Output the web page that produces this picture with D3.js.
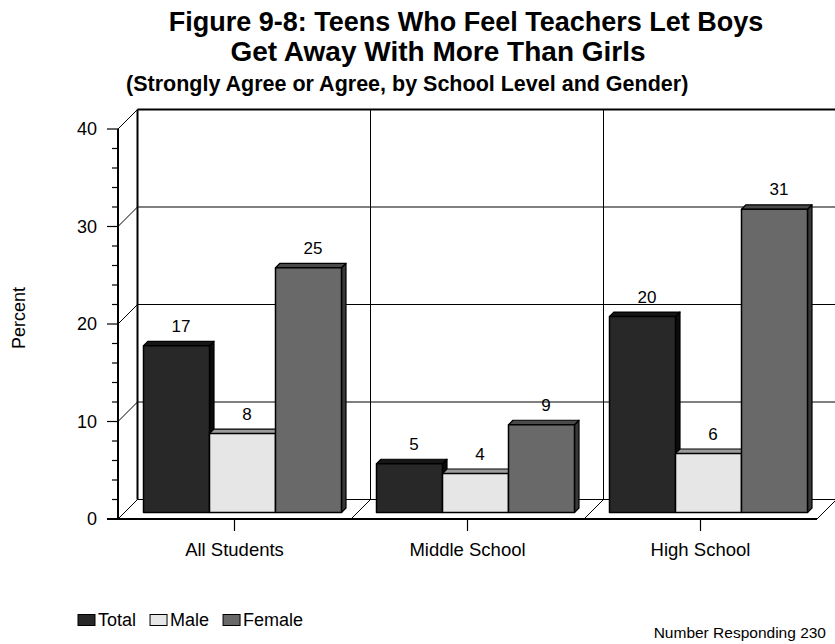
<!DOCTYPE html>
<html><head><meta charset="utf-8">
<script src="https://cdn.jsdelivr.net/npm/d3@7"></script>
<style>body{margin:0;background:#fff}svg{display:block;font-family:"Liberation Sans",Arial,sans-serif}</style>
</head><body><svg id="c" width="835" height="644"></svg>
<script>
const categories = ["All Students", "Middle School", "High School"];
const seriesNames = ["Total", "Male", "Female"];
const totalValues = [17.1, 5.0, 20.1];
const maleValues = [8.1, 4.0, 6.05];
const femaleValues = [25.1, 9.0, 31.1];
const yTickValues = [0, 10, 20, 30, 40];
const minorTickValues = d3.range(0, 41, 2);
const footnote = "Number Responding 230";

const seriesData = [totalValues, maleValues, femaleValues];
const frontColor = ["#282828", "#e6e6e6", "#696969"];
const topColor = ["#161616", "#9c9c9c", "#4a4a4a"];
const sideColor = ["#0c0c0c", "#b4b4b4", "#383838"];

const svg = d3.select("#c");
const DEP = 19.5, D1 = 6.5, D2 = 11;
const y = d3.scaleLinear().domain([0, 40]).range([519, 129]);
const x = d3.scaleBand().domain(categories).range([118, 817]);
const xs = d3.scaleBand().domain(seriesNames).range([19, 217]);
const P = (px, py, d) => [px + d, py - d];
const line = d3.line();

// Title
const t = svg.append("g").attr("font-weight", "bold").attr("fill", "#000");
t.append("text").attr("x", 466).attr("y", 31).attr("text-anchor", "middle").attr("font-size", 27)
  .text("Figure 9-8: Teens Who Feel Teachers Let Boys");
t.append("text").attr("x", 438).attr("y", 61).attr("text-anchor", "middle").attr("font-size", 28)
  .text("Get Away With More Than Girls");
t.append("text").attr("x", 126).attr("y", 91).attr("font-size", 21.5)
  .text("(Strongly Agree or Agree, by School Level and Gender)");

const g = svg.append("g");
const x0 = x.range()[0], x1 = x.range()[1];
const y0 = y(0), yTop = y(40);

// back wall
g.append("path").attr("d", line([P(x0, y0, DEP), P(x1, y0, DEP), P(x1, yTop, DEP), P(x0, yTop, DEP)]) + "Z")
  .attr("fill", "#fff").attr("stroke", "none");

// horizontal gridlines on back wall + side wall diagonals
yTickValues.forEach(v => {
  if (v > 0 && v < 40) {
    g.append("path").attr("d", line([P(x0, y(v), DEP), P(x1, y(v), DEP)])).attr("stroke", "#000").attr("stroke-width", 1).attr("fill", "none");
  }
  g.append("path").attr("d", line([[x0, y(v)], P(x0, y(v), DEP)])).attr("stroke", "#000").attr("stroke-width", 1).attr("fill", "none");
});
// back wall top
g.append("path").attr("d", line([P(x0, yTop, DEP), P(x1, yTop, DEP)])).attr("stroke", "#000").attr("stroke-width", 2).attr("fill", "none");
// vertical gridlines on back wall and floor diagonals at boundaries
categories.forEach((c, i) => {
  const bx = x(c);
  if (i > 0) {
    g.append("path").attr("d", line([P(bx, y0, DEP), P(bx, yTop, DEP)])).attr("stroke", "#000").attr("stroke-width", 1).attr("fill", "none");
  }
  g.append("path").attr("d", line([[bx, y0], P(bx, y0, DEP)])).attr("stroke", "#000").attr("stroke-width", 1).attr("fill", "none");
});
g.append("path").attr("d", line([[x1, y0], P(x1, y0, DEP)])).attr("stroke", "#000").attr("stroke-width", 1).attr("fill", "none");
g.append("path").attr("d", line([P(x1, y0, DEP), P(x1, yTop, DEP)])).attr("stroke", "#000").attr("stroke-width", 1.5).attr("fill", "none");
// floor back edge
g.append("path").attr("d", line([P(x0, y0, DEP), P(x1, y0, DEP)])).attr("stroke", "#000").attr("stroke-width", 1).attr("fill", "none");
// back wall left edge
g.append("path").attr("d", line([P(x0, y0, DEP), P(x0, yTop, DEP)])).attr("stroke", "#000").attr("stroke-width", 2).attr("fill", "none");

// front axes
g.append("path").attr("d", line([[x0, y0], [x0, yTop]])).attr("stroke", "#000").attr("stroke-width", 2).attr("fill", "none");
g.append("path").attr("d", line([[107, y0], [x1, y0]])).attr("stroke", "#000").attr("stroke-width", 2).attr("fill", "none");

// y ticks
minorTickValues.forEach(v => {
  const major = v % 10 === 0;
  g.append("path").attr("d", line([[major ? 107 : 112, y(v)], [x0, y(v)]])).attr("stroke", "#000").attr("stroke-width", 1.2).attr("fill", "none");
});
g.selectAll("text.yt").data(yTickValues).join("text").attr("class", "yt")
  .attr("x", 97).attr("y", d => y(d)).attr("dy", "0.36em").attr("text-anchor", "end")
  .attr("font-size", 18).text(d => d);

// category ticks and labels
categories.forEach(c => {
  const cx = x(c) + x.bandwidth() / 2;
  g.append("path").attr("d", line([[cx, y0], [cx, y0 + 12]])).attr("stroke", "#000").attr("stroke-width", 1.2).attr("fill", "none");
  g.append("text").attr("x", cx).attr("y", 556).attr("text-anchor", "middle").attr("font-size", 18.5).text(c);
});

// bars
categories.forEach((c, ci) => {
  seriesNames.forEach((s, si) => {
    const v = seriesData[si][ci];
    const bl = x(c) + xs(s), br = bl + xs.bandwidth();
    const yb = y(0), yt = y(v);
    const f = [P(bl, yb, D1), P(br, yb, D1), P(br, yt, D1), P(bl, yt, D1)];
    const top = [P(bl, yt, D1), P(br, yt, D1), P(br, yt, D2), P(bl, yt, D2)];
    const side = [P(br, yb, D1), P(br, yb, D2), P(br, yt, D2), P(br, yt, D1)];
    g.append("path").attr("d", line(side) + "Z").attr("fill", sideColor[si]).attr("stroke", "#000").attr("stroke-width", 1.2).attr("stroke-linejoin", "round");
    g.append("path").attr("d", line(top) + "Z").attr("fill", topColor[si]).attr("stroke", "#000").attr("stroke-width", 1.2).attr("stroke-linejoin", "round");
    g.append("path").attr("d", line(f) + "Z").attr("fill", frontColor[si]).attr("stroke", "#000").attr("stroke-width", 1.5).attr("stroke-linejoin", "round");
    const lp = P((bl + br) / 2, yt, D2);
    g.append("text").attr("x", lp[0]).attr("y", lp[1] - 9.5).attr("text-anchor", "middle").attr("font-size", 17)
      .text(d3.format(".0f")(v));
  });
});

// y-axis title
svg.append("text").attr("transform", "translate(25,318) rotate(-90)").attr("text-anchor", "middle")
  .attr("font-size", 18).text("Percent");

// legend
const lg = svg.append("g");
let lx = 78;
seriesNames.forEach((s, i) => {
  lg.append("rect").attr("x", lx).attr("y", 614.5).attr("width", 17).attr("height", 11)
    .attr("fill", frontColor[i]).attr("stroke", "#000").attr("stroke-width", 1);
  const tx = lg.append("text").attr("x", lx + 20).attr("y", 626).attr("font-size", 18).text(s);
  lx = lx + 20 + tx.node().getComputedTextLength() + 14;
});

// footnote
svg.append("text").attr("x", 826).attr("y", 638).attr("text-anchor", "end").attr("font-size", 15.5).text(footnote);
</script>
</body></html>
